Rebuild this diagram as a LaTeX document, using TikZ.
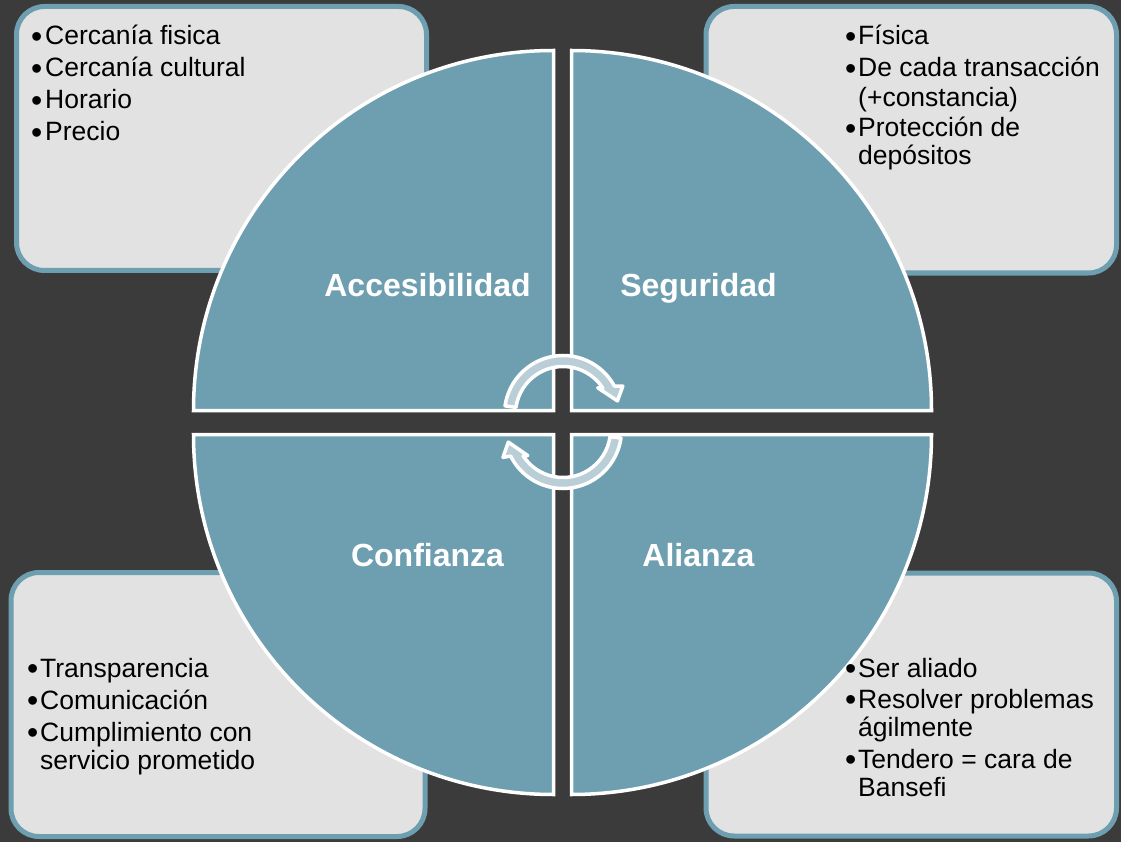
\documentclass[tikz,border=0pt]{standalone}
\usepackage{fontspec}
\setmainfont{Liberation Sans}
\definecolor{fondo}{RGB}{59,59,59}
\definecolor{azul}{RGB}{110,159,176}
\definecolor{relleno}{RGB}{226,226,226}
\definecolor{claro}{RGB}{185,206,214}
\tikzset{
	cuadrante/.style={fill=azul, draw=white, line width=3.5pt},
	recuadro/.style={fill=relleno, draw=azul, line width=5pt, rounded corners=28pt},
	etiqueta/.style={text=white, font=\fontsize{32}{37}\selectfont\bfseries, inner sep=0pt, anchor=base},
	punto/.style={font=\fontsize{32}{29}\selectfont, inner sep=0pt, anchor=base west, yshift=-2.5pt},
	texto/.style={font=\fontsize{26.5}{29}\selectfont, inner sep=0pt, anchor=base west},
	giro/.style={fill=claro, draw=white, line width=3.5pt, line join=round},
}
\begin{document}
\begin{tikzpicture}[x=1pt,y=-1pt]
		\fill[fondo] (0,0) rectangle (1121,842);
		\useasboundingbox (0,0) rectangle (1121,842);

		% recuadros de las esquinas
		\draw[recuadro] (16.5,6.5) rectangle (426.5,270.5); % arriba izquierda
		\draw[recuadro] (706,6.5) rectangle (1116.5,273); % arriba derecha
		\draw[recuadro] (11,572.5) rectangle (425,836.5); % abajo izquierda
		\draw[recuadro] (706,573) rectangle (1116.5,836); % abajo derecha

		% cuadrantes del círculo, radio 360
		\filldraw[cuadrante] (553.5,410.5) -- (193.5,410.5) arc (180:270:360) -- cycle;
		\filldraw[cuadrante] (571.5,410.5) -- (571.5,50.5) arc (270:360:360) -- cycle;
		\filldraw[cuadrante] (553.5,434.5) -- (193.5,434.5) arc (180:90:360) -- cycle;
		\filldraw[cuadrante] (571.5,434.5) -- (931.5,434.5) arc (0:90:360) -- cycle;

		\node[etiqueta] (acc) at (427.5,296) {Accesibilidad};
		\node[etiqueta] (seg) at (698.5,296) {Seguridad};
		\node[etiqueta] (conf) at (427.5,566) {Confianza};
		\node[etiqueta] (ali) at (698.5,566) {Alianza};

		% flechas circulares
		\begin{scope}[shift={(563,414)}]
			\filldraw[giro] (-172:58.5) arc (-172:-28.5:58.5) -- (-25:66) -- (-13.5:56) -- (-37:43.5) -- (-33:47.5) arc (-33:-172:47.5) -- cycle;
		\end{scope}
		\begin{scope}[shift={(563,430)}]
			\filldraw[giro] (8:58.5) arc (8:153.5:58.5) -- (155.5:66) -- (167.5:56) -- (144:43.5) -- (147:47.5) arc (147:8:47.5) -- cycle;
		\end{scope}

		% textos arriba izquierda
		\node[punto] (p11) at (31,45) {•};
		\node[texto] (t11) at (45,45) {Cercanía fisica};
		\node[punto] (p12) at (31,77) {•};
		\node[texto] (t12) at (45,77) {Cercanía cultural};
		\node[punto] (p13) at (31,109) {•};
		\node[texto] (t13) at (45,109) {Horario};
		\node[punto] (p14) at (31,141) {•};
		\node[texto] (t14) at (45,141) {Precio};

		% textos arriba derecha
		\node[punto] (p21) at (845,45) {•};
		\node[texto] (t21) at (858,45) {Física};
		\node[punto] (p22) at (845,77) {•};
		\node[texto] (t22) at (858,77) {De cada transacción};
		\node[texto] (t22b) at (858,107) {(+constancia)};
		\node[punto] (p23) at (845,137) {•};
		\node[texto] (t23) at (858,137) {Protección de};
		\node[texto] (t23b) at (858,165) {depósitos};

		% textos abajo izquierda
		\node[punto] (p31) at (27,677) {•};
		\node[texto] (t31) at (40,677) {Transparencia};
		\node[punto] (p32) at (27,709) {•};
		\node[texto] (t32) at (40,709) {Comunicación};
		\node[punto] (p33) at (27,741) {•};
		\node[texto] (t33) at (40,741) {Cumplimiento con};
		\node[texto] (t33b) at (40,769) {servicio prometido};

		% textos abajo derecha
		\node[punto] (p41) at (845,677) {•};
		\node[texto] (t41) at (858,677) {Ser aliado};
		\node[punto] (p42) at (845,708) {•};
		\node[texto] (t42) at (858,708) {Resolver problemas};
		\node[texto] (t42b) at (858,736) {ágilmente};
		\node[punto] (p43) at (845,768) {•};
		\node[texto] (t43) at (858,768) {Tendero = cara de};
		\node[texto] (t43b) at (858,796) {Bansefi};
\end{tikzpicture}
\end{document}
